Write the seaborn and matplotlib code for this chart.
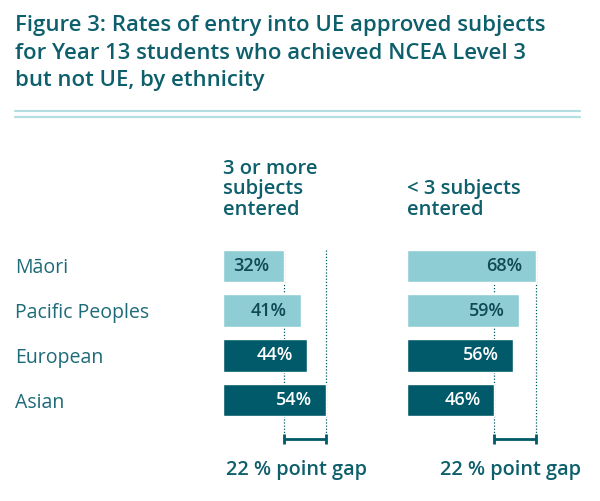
import matplotlib
matplotlib.use("Agg")
import matplotlib.pyplot as plt
import seaborn as sns
import pandas as pd
from matplotlib.lines import Line2D

# ---- data ----
ethnicities = ["Māori", "Pacific Peoples", "European", "Asian"]
three_or_more = [32, 41, 44, 54]
less_than_three = [68, 59, 56, 46]
panel_titles = ["3 or more\nsubjects\nentered", "< 3 subjects\nentered"]
gap_labels = ["22 % point gap", "22 % point gap"]
title = ("Figure 3: Rates of entry into UE approved subjects\n"
         "for Year 13 students who achieved NCEA Level 3\n"
         "but not UE, by ethnicity")

DARK = "#005a69"
LIGHT = "#8ecdd4"
TITLE_C = "#0e5f6c"
LABEL_C = "#1d6a78"
RULE_C = "#b4dde2"
bar_colors = [LIGHT, LIGHT, DARK, DARK]
text_colors = ["#0f4a55", "#0f4a55", "white", "white"]

sns.set_theme(style="white")
plt.rcParams["font.family"] = ["Open Sans", "DejaVu Sans"]

W, H = 600, 501
fig = plt.figure(figsize=(6.0, 5.01), dpi=100)
renderer = fig.canvas.get_renderer()


def fit_width(txt, target_px):
    bb = txt.get_window_extent(renderer=renderer)
    txt.set_fontsize(txt.get_fontsize() * target_px / bb.width)


PX = 1.9           # pixels per percentage point
PITCH = 44.67      # pixels per category row
y_top = 266 - 0.5 * PITCH
y_bot = y_top + 5 * PITCH   # ylim (-0.5, 4.5)

panels = [(223, 70, three_or_more), (407, 90, less_than_three)]
for i, (left_px, xmax, vals) in enumerate(panels):
    w = xmax * PX
    ax = fig.add_axes([left_px / W, 1 - y_bot / H, w / W, (y_bot - y_top) / H])
    df = pd.DataFrame({"eth": ethnicities, "val": vals})
    sns.barplot(data=df, y="eth", x="val", hue="eth", palette=bar_colors,
                order=ethnicities, hue_order=ethnicities, orient="h",
                width=0.727, legend=False, ax=ax, saturation=1)
    ax.set_xlim(0, xmax)
    ax.set_ylim(4.5, -0.5)
    ax.set_xlabel("")
    ax.set_ylabel("")
    ax.set_xticks([])
    for s in ax.spines.values():
        s.set_visible(False)
    ax.set_facecolor("none")
    if i == 0:
        ax.set_yticks(range(len(ethnicities)))
        labs = ax.set_yticklabels(ethnicities, ha="left", fontsize=13, color=LABEL_C)
        ax.tick_params(axis="y", length=0, pad=208 * 72 / 100)
        fit_width(labs[1], 134)
        for t in labs:
            t.set_fontsize(labs[1].get_fontsize())
    else:
        ax.set_yticks([])

    # value labels
    for j, v in enumerate(vals):
        a = ax.annotate(f"{v}%", xy=(v, j), xytext=(-14, 0), textcoords="offset pixels",
                        ha="right", va="center", fontsize=11.3, fontweight="semibold",
                        color=text_colors[j])
        fit_width(a, 36)

    lo, hi = min(vals), max(vals)
    y0, yb = -0.365, (439 - 266) / PITCH
    for xv in (lo, hi):
        ax.plot([xv, xv], [y0, yb], ls=(0, (1, 1.5)), lw=0.9, color=DARK,
                zorder=0.5, clip_on=False)
    # bracket
    ax.plot([lo, hi], [yb, yb], color=DARK, lw=2, clip_on=False, solid_capstyle="butt")
    for xv in (lo, hi):
        ax.plot([xv, xv], [yb - 0.12, yb + 0.12], color=DARK, lw=2, clip_on=False,
                solid_capstyle="butt")

    # panel header
    ht = fig.text(left_px / W, 1 - 220 / H, panel_titles[i], ha="left", va="bottom",
                  fontsize=13, fontweight="semibold", color=TITLE_C, linespacing=1.05)
    if i == 1:
        fit_width(ht, 113)
        hdr_fs = ht.get_fontsize()
    # gap label
    cx = 297 if i == 0 else 511
    g = fig.text(cx / W, 1 - 470 / H, gap_labels[i], ha="center", va="center",
                 fontsize=12.5, fontweight="semibold", color=TITLE_C)
    fit_width(g, 141)

# header font sizes identical
for t in fig.texts:
    if t.get_text() in panel_titles:
        t.set_fontsize(hdr_fs)

# title
tt = fig.text(15 / W, 1 - 15 / H, title, ha="left", va="top", fontsize=15.5,
              fontweight="semibold", color=TITLE_C, linespacing=1.42)
fit_width(tt, 528)

# double rule
for yy in (110.7, 116.7):
    fig.add_artist(Line2D([15 / W, 580 / W], [1 - yy / H, 1 - yy / H],
                          color=RULE_C, lw=1.6, transform=fig.transFigure))

fig.savefig("out.png", dpi=100)
